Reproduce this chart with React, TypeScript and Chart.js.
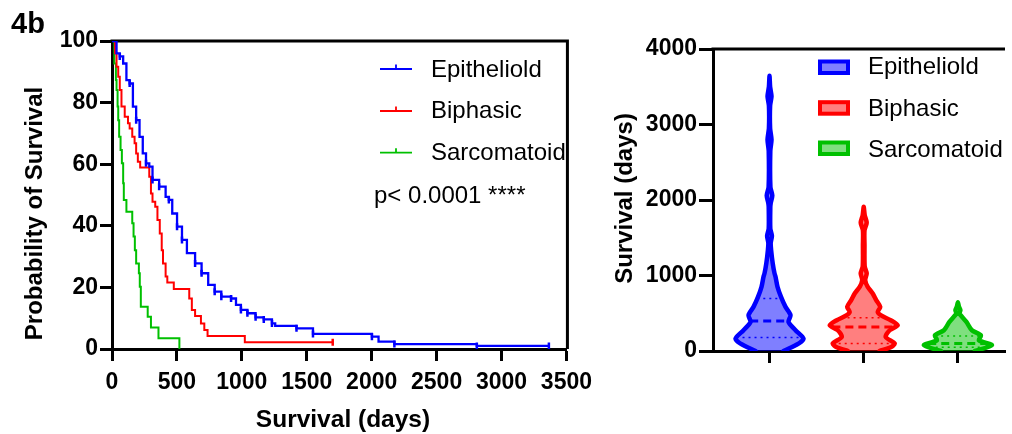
import React, { useEffect, useRef } from 'react';
import { Chart, registerables } from 'chart.js';

Chart.register(...registerables);

const FONT = '"Liberation Sans", Arial, Helvetica, sans-serif';

// ---------------- Kaplan-Meier data ----------------
const groupNames = ['Epitheliold', 'Biphasic', 'Sarcomatoid'];
const lineColors = ['#0000FF', '#FF0000', '#00C000'];
const fillColors = ['rgba(0,0,255,0.5)', 'rgba(255,0,0,0.5)', 'rgba(0,192,0,0.5)'];

const kmXTicks = [0, 500, 1000, 1500, 2000, 2500, 3000, 3500];
const kmYTicks = [0, 20, 40, 60, 80, 100];

const epiDays = [0, 35, 60, 86, 111, 136, 161, 186, 212, 237, 262, 287, 312, 363, 413, 438, 464, 501, 539, 577, 640, 690, 741, 791, 842, 917, 955, 993, 1043, 1106, 1169, 1232, 1257, 1421, 1548, 2002, 2053, 2175, 2810, 3365];
const epiSurv = [100, 96, 95, 92.7, 87.3, 86.2, 78.7, 74.3, 68.9, 63.5, 60.3, 59.2, 54.9, 52.7, 49.4, 48.4, 44.0, 39.7, 35.4, 31.1, 27.8, 24.6, 20.8, 18.6, 17.0, 16.4, 14.3, 12.7, 11.6, 10.3, 9.6, 8.3, 7.5, 6.7, 4.9, 4.0, 2.4, 1.6, 1.0, 1.0];
const epiCensorDays = [60, 136, 186, 262, 312, 363, 438, 501, 539, 640, 690, 791, 842, 917, 993, 1043, 1106, 1169, 1232, 1421, 1548, 2002, 2175, 2810, 3365];
const epiCensorSurv = [95, 86.2, 74.3, 60.3, 54.9, 52.7, 48.4, 39.7, 35.4, 27.8, 24.6, 18.6, 17.0, 16.4, 12.7, 11.6, 10.3, 9.6, 8.3, 6.7, 4.9, 4.0, 1.6, 1.0, 1.0];

const bipDays = [0, 23, 35, 48, 60, 73, 98, 123, 136, 156, 174, 186, 199, 217, 287, 300, 312, 333, 350, 368, 383, 393, 413, 426, 476, 595, 615, 640, 685, 711, 736, 1023, 1700];
const bipSurv = [100, 96, 91.6, 88.4, 84.1, 78.7, 75.4, 73.3, 71.6, 68.9, 66.8, 63.5, 60.8, 58.9, 55.9, 50.5, 47.8, 46.2, 41.9, 37.5, 32.1, 27.8, 23.5, 21.6, 19.5, 16.4, 12.7, 10.7, 8.3, 6.2, 4.2, 2.2, 2.2];
const bipCensorDays = [1700];
const bipCensorSurv = [2.2];

const sarDays = [0, 18, 30, 35, 43, 48, 55, 66, 76, 86, 91, 111, 156, 166, 176, 186, 207, 214, 222, 275, 300, 358, 519];
const sarSurv = [100, 92.7, 87.3, 84.1, 78.7, 74.3, 68.9, 64.6, 60.3, 53.8, 48.4, 44.6, 40.8, 36.5, 32.1, 27.8, 24.6, 20.2, 13.7, 10.5, 7.0, 3.5, 0];
const sarCensorDays: number[] = [];
const sarCensorSurv: number[] = [];

const pValueText = 'p< 0.0001 ****';

// ---------------- Violin data ----------------
const violinPositions = [1, 2, 3];
const violinYTicks = [0, 1000, 2000, 3000, 4000];

const epiViolinVals = [0, 98, 164, 275, 385, 474, 584, 717, 850, 983, 1028, 1161, 1337, 1430, 1525, 1620, 1900, 1960, 2060, 2170, 2650, 2800, 2950, 3250, 3373, 3500, 3645];
const epiViolinDens = [14, 29, 34, 26, 19, 21, 16, 11.5, 8, 6, 5, 3.2, 1.6, 1.2, 2.4, 0.8, 0.8, 1.2, 2.8, 0.9, 0.8, 2, 0.6, 0.6, 2, 0.6, 0];
const epiQuartiles = [178, 399, 696];

const bipViolinVals = [0, 50, 100, 186, 275, 341, 408, 474, 518, 584, 673, 762, 850, 939, 1028, 1120, 1400, 1600, 1700, 1800, 1910];
const bipViolinDens = [16, 27, 31, 22, 26, 34, 27, 17, 14, 16.5, 12.5, 9, 4, 1.5, 3, 1, 0.8, 0.8, 3, 1, 0];
const bipQuartiles = [100, 319, 440];

const sarViolinVals = [0, 76, 142, 208, 275, 385, 470, 500, 540, 590, 645];
const sarViolinDens = [17, 34, 21, 23, 14, 8.5, 3, 1.5, 2.5, 1, 0];
const sarQuartiles = [50, 98, 200];

const DENS_TO_X = 1 / 94.2;

function densAt(vals: number[], dens: number[], v: number) {
  for (let i = 0; i < vals.length - 1; i++) {
    if (v >= vals[i] && v <= vals[i + 1]) {
      const t = (v - vals[i]) / (vals[i + 1] - vals[i]);
      return dens[i] + t * (dens[i + 1] - dens[i]);
    }
  }
  return 0;
}

const tickFont = { family: FONT, size: 23, weight: 'bold' as const };
const plainTick = (v: any) => String(v);

function axisCommon(tickLength: number) {
  return {
    grid: {
      display: true,
      drawOnChartArea: false,
      drawTicks: true,
      tickLength,
      tickWidth: 3,
      tickColor: '#000',
      color: '#000',
    },
    border: { display: true, width: 3, color: '#000' },
  };
}

function KMChart() {
  const ref = useRef<HTMLCanvasElement>(null);
  useEffect(() => {
    const groups = [
      { days: epiDays, surv: epiSurv, cd: epiCensorDays, cs: epiCensorSurv, w: 2.3 },
      { days: bipDays, surv: bipSurv, cd: bipCensorDays, cs: bipCensorSurv, w: 2 },
      { days: sarDays, surv: sarSurv, cd: sarCensorDays, cs: sarCensorSurv, w: 2 },
    ];
    const datasets: any[] = [];
    groups.forEach((g, i) => {
      datasets.push({
        label: groupNames[i],
        data: g.days.map((d, k) => ({ x: d, y: g.surv[k] })),
        showLine: true,
        stepped: 'before',
        borderColor: lineColors[i],
        backgroundColor: lineColors[i],
        borderWidth: g.w,
        pointRadius: 0,
        fill: false,
      });
      datasets.push({
        label: groupNames[i] + ' censored',
        data: g.cd.map((d, k) => ({ x: d, y: g.cs[k] })),
        showLine: false,
        pointStyle: 'line',
        rotation: 90,
        pointRadius: 3.5,
        pointBorderWidth: 2.5,
        borderColor: lineColors[i],
        backgroundColor: lineColors[i],
      });
    });

    const decor = {
      id: 'kmDecor',
      beforeDatasetsDraw(chart: any) {
        const { ctx, chartArea } = chart;
        ctx.save();
        ctx.strokeStyle = '#000';
        ctx.lineWidth = 3;
        ctx.beginPath();
        ctx.moveTo(chartArea.left - 1.5, chartArea.top);
        ctx.lineTo(chartArea.right + 1, chartArea.top);
        ctx.moveTo(chartArea.right + 1, chartArea.top - 1.5);
        ctx.lineTo(chartArea.right + 1, chartArea.bottom);
        ctx.stroke();
        ctx.restore();
      },
      afterDraw(chart: any) {
        const { ctx } = chart;
        ctx.save();
        ctx.fillStyle = '#000';
        ctx.font = `bold 29px ${FONT}`;
        ctx.textAlign = 'left';
        ctx.textBaseline = 'alphabetic';
        ctx.fillText('4b', 11, 32.5);
        ctx.font = `bold 24px ${FONT}`;
        ctx.save();
        ctx.translate(41.5, 213.5);
        ctx.rotate(-Math.PI / 2);
        ctx.textAlign = 'center';
        ctx.fillText('Probability of Survival', 0, 0);
        ctx.restore();
        ctx.textAlign = 'center';
        ctx.font = `bold 24.5px ${FONT}`;
        ctx.fillText('Survival (days)', 343, 426.5);
        const ly = [69, 111, 152.7];
        const ty = [76.7, 118.3, 160];
        ctx.font = `24px ${FONT}`;
        ctx.textAlign = 'left';
        groupNames.forEach((n, i) => {
          ctx.strokeStyle = lineColors[i];
          ctx.lineWidth = 1.8;
          ctx.beginPath();
          ctx.moveTo(380, ly[i]);
          ctx.lineTo(412, ly[i]);
          ctx.moveTo(396, ly[i] - 4.5);
          ctx.lineTo(396, ly[i]);
          ctx.stroke();
          ctx.fillStyle = '#000';
          ctx.fillText(n, 431, ty[i]);
        });
        ctx.fillText(pValueText, 374, 202.5);
        ctx.restore();
      },
    };

    const chart = new Chart(ref.current!, {
      type: 'scatter',
      data: { datasets },
      options: {
        responsive: false,
        animation: false,
        layout: { padding: { left: 0, right: 25, top: 41, bottom: 0 } },
        plugins: { legend: { display: false }, tooltip: { enabled: false } },
        scales: {
          x: {
            type: 'linear',
            min: kmXTicks[0],
            max: kmXTicks[kmXTicks.length - 1],
            ticks: {
              stepSize: kmXTicks[1] - kmXTicks[0],
              font: tickFont,
              color: '#000',
              padding: 8,
              maxRotation: 0,
              autoSkip: false,
              callback: plainTick,
            },
            ...axisCommon(12),
            afterFit: (s: any) => {
              s.height = 85;
            },
          },
          y: {
            type: 'linear',
            min: kmYTicks[0],
            max: kmYTicks[kmYTicks.length - 1],
            ticks: {
              stepSize: kmYTicks[1] - kmYTicks[0],
              font: tickFont,
              color: '#000',
              padding: 2,
              callback: plainTick,
            },
            ...axisCommon(12),
            afterFit: (s: any) => {
              s.width = 112;
            },
          },
        },
      } as any,
      plugins: [decor],
    });
    return () => chart.destroy();
  }, []);
  return <canvas ref={ref} width={600} height={434} style={{ position: 'absolute', left: 0, top: 0 }} />;
}

function ViolinChart() {
  const ref = useRef<HTMLCanvasElement>(null);
  useEffect(() => {
    const groups = [
      { vals: epiViolinVals, dens: epiViolinDens, q: epiQuartiles },
      { vals: bipViolinVals, dens: bipViolinDens, q: bipQuartiles },
      { vals: sarViolinVals, dens: sarViolinDens, q: sarQuartiles },
    ];
    const datasets: any[] = [];
    groups.forEach((g, i) => {
      const c = violinPositions[i];
      const right = g.vals.map((v, k) => ({ x: c + g.dens[k] * DENS_TO_X, y: v }));
      const left = g.vals
        .slice(0, -1)
        .map((v, k) => ({ x: c - g.dens[k] * DENS_TO_X, y: v }))
        .reverse();
      datasets.push({
        label: groupNames[i],
        data: [...right, ...left],
        showLine: true,
        fill: 'shape',
        tension: 0.25,
        borderColor: lineColors[i],
        backgroundColor: fillColors[i],
        borderWidth: 4.5,
        borderJoinStyle: 'round',
        borderCapStyle: 'round',
        pointRadius: 0,
      });
    });
    groups.forEach((g, i) => {
      const c = violinPositions[i];
      g.q.forEach((qv, k) => {
        const hw = densAt(g.vals, g.dens, qv) * DENS_TO_X;
        const isMedian = k === 1;
        datasets.push({
          label: groupNames[i] + ' q' + k,
          data: [
            { x: c - hw, y: qv },
            { x: c + hw, y: qv },
          ],
          showLine: true,
          borderColor: lineColors[i],
          borderWidth: isMedian ? 3 : 1.5,
          borderDash: isMedian ? [8, 5] : [2, 4],
          pointRadius: 0,
          fill: false,
        });
      });
    });

    const decor = {
      id: 'violinDecor',
      beforeDatasetsDraw(chart: any) {
        const { ctx, chartArea } = chart;
        ctx.save();
        ctx.strokeStyle = '#000';
        ctx.lineWidth = 3;
        ctx.beginPath();
        ctx.moveTo(chartArea.left - 1.5, chartArea.top);
        ctx.lineTo(chartArea.right, chartArea.top);
        ctx.stroke();
        ctx.restore();
      },
      afterDraw(chart: any) {
        const { ctx } = chart;
        ctx.save();
        ctx.fillStyle = '#000';
        ctx.font = `bold 24px ${FONT}`;
        ctx.save();
        ctx.translate(32, 198.5);
        ctx.rotate(-Math.PI / 2);
        ctx.textAlign = 'center';
        ctx.textBaseline = 'alphabetic';
        ctx.fillText('Survival (days)', 0, 0);
        ctx.restore();
        const by = [61.5, 102.2, 142.5];
        const ty = [73.5, 116, 156.5];
        ctx.font = `24px ${FONT}`;
        ctx.textAlign = 'left';
        groupNames.forEach((n, i) => {
          ctx.fillStyle = fillColors[i];
          ctx.fillRect(220, by[i], 28, 11.5);
          ctx.strokeStyle = lineColors[i];
          ctx.lineWidth = 4;
          ctx.strokeRect(220, by[i], 28, 11.5);
          ctx.fillStyle = '#000';
          ctx.fillText(n, 268, ty[i]);
        });
        ctx.restore();
      },
    };

    const chart = new Chart(ref.current!, {
      type: 'scatter',
      data: { datasets },
      options: {
        responsive: false,
        animation: false,
        layout: { padding: { left: 0, right: 7, top: 49, bottom: 0 } },
        plugins: { legend: { display: false }, tooltip: { enabled: false } },
        scales: {
          x: {
            type: 'linear',
            min: 0.4,
            max: 3.5,
            ticks: { display: false },
            afterBuildTicks: (s: any) => {
              s.ticks = violinPositions.map((v) => ({ value: v }));
            },
            ...axisCommon(12),
            afterFit: (s: any) => {
              s.height = 83;
            },
          },
          y: {
            type: 'linear',
            min: violinYTicks[0],
            max: violinYTicks[violinYTicks.length - 1],
            ticks: {
              stepSize: violinYTicks[1] - violinYTicks[0],
              font: tickFont,
              color: '#000',
              padding: 2,
              callback: plainTick,
            },
            ...axisCommon(14),
            afterFit: (s: any) => {
              s.width = 113;
            },
          },
        },
      } as any,
      plugins: [decor],
    });
    return () => chart.destroy();
  }, []);
  return <canvas ref={ref} width={412} height={434} style={{ position: 'absolute', left: 600, top: 0 }} />;
}

export default function App() {
  return (
    <div style={{ position: 'absolute', left: 0, top: 0, width: 1012, height: 434, background: '#fff' }}>
      <KMChart />
      <ViolinChart />
    </div>
  );
}
